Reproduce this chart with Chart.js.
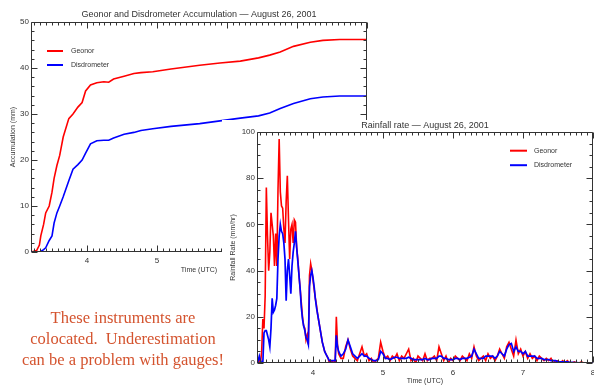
<!DOCTYPE html>
<html>
<head>
<meta charset="utf-8">
<script src="https://cdn.jsdelivr.net/npm/chart.js@4/dist/chart.umd.min.js"></script>
<style>
html, body { margin: 0; padding: 0; background: #fff; }
body { width: 594px; height: 386px; position: relative; overflow: hidden; }
#accChart { position: absolute; left: 0; top: 0; }
#rateChart { position: absolute; left: 222px; top: 120px; background: #fff; }
#note {
  position: absolute; left: 0; top: 307px; width: 246px;
  text-align: center; font: 16.5px/21px "Liberation Serif", serif; color: #d4532e;
}
</style>
</head>
<body>
<canvas id="accChart" width="380" height="282"></canvas>
<canvas id="rateChart" width="372" height="266"></canvas>
<div id="note">These instruments are<br>colocated.&nbsp; Underestimation<br>can be a problem with gauges!</div>
<script>
// accumulation (mm) vs time (UTC hours)
const accHours = [3.20, 3.28, 3.32, 3.34, 3.38, 3.41, 3.46, 3.50, 3.53, 3.57,
  3.61, 3.66, 3.74, 3.80, 3.87, 3.93, 3.98, 4.05, 4.14, 4.24,
  4.31, 4.38, 4.53, 4.67, 4.77, 4.94, 5.20, 5.61, 5.90, 6.19,
  6.45, 6.61, 6.76, 6.95, 7.19, 7.37, 7.61, 8.00]
const geonorAcc = [0, 0.3, 1.5, 3.5, 6, 8.5, 10, 13, 16, 18.8,
  21, 25, 29, 30, 31.5, 32.5, 35, 36.3, 36.8, 37,
  36.9, 37.6, 38.2, 38.8, 39.0, 39.2, 39.8, 40.6, 41.1, 41.5,
  42.2, 42.8, 43.5, 44.7, 45.6, 46.0, 46.2, 46.2]
const disdroAcc = [0, 0, 0, 0.1, 0.5, 0.9, 2.5, 3.5, 6.3, 8.5,
  10, 12, 15.5, 18, 19, 20, 21.5, 23.5, 24.2, 24.3,
  24.3, 24.8, 25.6, 26.0, 26.4, 26.8, 27.3, 27.9, 28.5, 29.1,
  29.6, 30.2, 31.2, 32.3, 33.3, 33.7, 33.9, 33.9]

// rain rate (mm/hr) vs time (UTC minutes of the day)
const rateMinutes = [
  192, 193, 194, 195, 196, 197, 198, 199, 200, 201,
  202, 203, 204, 205, 206, 207, 208, 209, 210, 211,
  212, 213, 214, 215, 216, 217, 218, 219, 220, 221,
  222, 223, 224, 225, 226, 227, 228, 229, 230, 231,
  232, 233, 234, 235, 236, 237, 238, 239, 240, 241,
  242, 243, 244, 245, 246, 247, 248, 249, 250, 251,
  252, 253, 254, 255, 256, 257, 258, 259, 260, 261,
  262, 263, 264,
  266, 268, 270, 272, 274, 276, 278, 280, 282, 284,
  286, 288, 290, 292, 294, 296, 298, 300, 302, 304,
  306, 308, 310, 312, 314, 316, 318, 320, 322, 324,
  326, 328, 330, 332, 334, 336, 338, 340, 342, 344,
  346, 348, 350, 352, 354, 356, 358, 360, 362, 364,
  366, 368, 370, 372, 374, 376, 378, 380, 382, 384,
  386, 388, 390, 392, 394, 396, 398, 400, 402, 404,
  406, 408, 410, 412, 414, 416, 418, 420, 422, 424,
  426, 428, 430, 432, 434, 436, 438, 440, 442, 444,
  446, 448, 450, 452, 454, 456, 458, 460, 462, 464,
  466, 468, 470, 472, 474, 476, 478, 480]
const geonorRate = [
  1, 0, 2, 0, 5, 19, 15, 29, 76, 55,
  40, 48, 65, 60, 55, 42, 56, 42, 75, 97,
  74, 68, 67, 58, 52, 70, 81, 62, 45, 58,
  60, 52, 62, 61, 50, 45, 38, 32, 26, 20,
  16, 15, 10, 12, 8, 38, 43, 40, 36, 32,
  28, 25, 21, 18, 15, 12, 9, 7, 5, 4,
  3, 2, 0, 1, 0, 1, 1, 0, 20, 8,
  4, 3, 2,
  2, 7, 10, 6, 3, 2, 1, 4, 7, 3,
  4, 1, 2, 0, 1, 2, 9, 5, 2, 3,
  1, 3, 2, 4, 1, 3, 2, 4, 6, 1,
  2, 0, 3, 2, 1, 4, 1, 2, 2, 3,
  1, 7, 4, 1, 3, 0, 2, 1, 3, 2,
  1, 3, 2, 1, 4, 2, 7, 3, 1, 2,
  3, 1, 4, 2, 3, 1, 3, 6, 4, 2,
  7, 9, 6, 3, 10, 4, 6, 3, 5, 2,
  4, 2, 3, 1, 3, 2, 1, 2, 1, 2,
  0, 1, 1, 0, 1, 0, 1, 0, 0, 0.5,
  0, 0, 0.5, 0, 0, 0, 0, 0]
const disdroRate = [
  0, 1, 3, 1, 0, 0, 13, 14, 14, 12,
  10, 7, 15, 28, 22, 23, 25, 28, 45, 55,
  60, 57, 56, 52, 45, 27, 40, 45, 38, 30,
  42, 48, 52, 57, 50, 44, 38, 32, 24, 19,
  16, 14, 11, 10, 8, 33, 38, 40, 37, 33,
  28, 24, 21, 18, 15, 12, 9, 7, 5, 4,
  3, 2, 1, 1, 1, 1, 1, 1, 12, 7,
  5, 4, 3,
  4, 6, 10, 7, 4, 3, 2, 3, 4, 3,
  3, 2, 1.5, 1, 1, 1.5, 5, 4, 2, 2,
  1.5, 2, 2.5, 2.5, 2, 2, 2, 2, 2.5, 2,
  1.5, 1.5, 1.5, 1.5, 1.5, 2, 1.5, 1.5, 2, 2,
  2, 3, 3, 2, 2, 1.5, 1.5, 1.5, 2, 2,
  1.5, 2, 2, 2, 2.5, 3, 6, 4, 2, 2,
  2, 3, 3, 3, 3, 2, 3, 5, 4, 3,
  6, 8, 8.5, 5, 7, 5, 5, 4, 5, 3,
  3, 3, 3, 2, 2, 2, 1.5, 1.5, 1.5, 1,
  1, 1, 0.5, 0.5, 0.5, 0.5, 0.5, 0.3, 0.3, 0.2,
  0.2, 0.1, 0, 0, 0, 0, 0, 0]

const timeTicks = [4, 5, 6, 7, 8]
const accTicks = [0, 10, 20, 30, 40, 50]
const rateTicks = [0, 20, 40, 60, 80, 100]
const seriesNames = ['Geonor', 'Disdrometer']

Chart.defaults.font.family = '"Liberation Sans", Arial, sans-serif'
Chart.defaults.color = '#333'
Chart.defaults.animation = false

const pairs = (xs, ys) => xs.map((t, i) => ({ x: t, y: ys[i] }))

// IDL style frame: box all round with inward ticks on every side
function marks(min, max, step, major) {
  const out = []
  const k0 = Math.ceil(min / step - 1e-6), k1 = Math.floor(max / step + 1e-6)
  for (let k = k0; k <= k1; k++) {
    const v = k * step
    out.push({ v: v, big: Math.abs(v / major - Math.round(v / major)) < 1e-6 })
  }
  return out
}

const frame = {
  id: 'frame',
  afterDatasetsDraw(chart, args, opts) {
    const { ctx, chartArea: a, scales: { x, y } } = chart
    const L = Math.round(a.left) + 0.5, R = Math.round(a.right) - 0.5
    const T = Math.round(a.top) + 0.5, B = Math.round(a.bottom) - 0.5
    ctx.save()
    ctx.strokeStyle = '#333'
    ctx.lineWidth = 1
    ctx.beginPath()
    ctx.rect(L, T, R - L, B - T)
    marks(x.min, x.max, opts.xMinor, opts.xMajor).forEach(m => {
      const px = Math.round(x.getPixelForValue(m.v)) + 0.5
      const len = m.big ? 6 : 3
      ctx.moveTo(px, B); ctx.lineTo(px, B - len)
      ctx.moveTo(px, T); ctx.lineTo(px, T + len)
    })
    marks(y.min, y.max, opts.yMinor, opts.yMajor).forEach(m => {
      const py = Math.round(y.getPixelForValue(m.v)) + 0.5
      const len = m.big ? 6 : 3
      ctx.moveTo(L, py); ctx.lineTo(L + len, py)
      ctx.moveTo(R, py); ctx.lineTo(R - len, py)
    })
    ctx.stroke()

    // legend inside the plot
    const lg = opts.legend
    ctx.font = '7px "Liberation Sans", Arial, sans-serif'
    ctx.textBaseline = 'middle'
    ctx.fillStyle = '#333'
    chart.data.datasets.forEach((ds, i) => {
      const ly = a.top + lg.y + i * lg.dy
      ctx.strokeStyle = ds.borderColor
      ctx.lineWidth = 2
      ctx.beginPath()
      ctx.moveTo(a.left + lg.x, ly); ctx.lineTo(a.left + lg.x + lg.len, ly)
      ctx.stroke()
      ctx.fillText(ds.label, a.left + lg.x + lg.len + lg.gap, ly)
    })
    ctx.restore()
  }
}

function makeScales(yTicks, yMax, yTitle, s) {
  return {
    x: {
      type: 'linear', min: 3.2, max: 8,
      afterBuildTicks: sc => { sc.ticks = timeTicks.map(v => ({ value: v })) },
      afterFit: sc => { sc.height = s.xh; sc.paddingLeft = 0; sc.paddingRight = 0 },
      grid: { display: false, drawTicks: false },
      border: { display: false },
      ticks: { padding: s.xpad, font: { size: 8 }, maxRotation: 0, autoSkip: false },
      title: { display: true, text: 'Time (UTC)', font: { size: 7 }, padding: { top: 0, bottom: s.xtp } }
    },
    y: {
      type: 'linear', min: 0, max: yMax,
      afterBuildTicks: sc => { sc.ticks = yTicks.map(v => ({ value: v })) },
      afterFit: sc => { sc.width = s.yw; sc.paddingTop = 0; sc.paddingBottom = 0 },
      grid: { display: false, drawTicks: false },
      border: { display: false },
      ticks: { padding: 2, font: { size: 8 }, autoSkip: false },
      title: { display: true, text: yTitle, font: { size: 7 }, padding: { top: s.ytp, bottom: 0 } }
    }
  }
}

new Chart(document.getElementById('accChart'), {
  type: 'line',
  data: {
    datasets: [
      { label: seriesNames[0], data: pairs(accHours, geonorAcc), borderColor: '#ff0000', borderWidth: 1.6, pointRadius: 0, order: 1 },
      { label: seriesNames[1], data: pairs(accHours, disdroAcc), borderColor: '#0000ff', borderWidth: 1.6, pointRadius: 0, order: 0 }
    ]
  },
  options: {
    responsive: false,
    layout: { padding: { left: 0, right: 13, top: 0, bottom: 0 } },
    scales: makeScales(accTicks, 50, 'Accumulation (mm)', { xh: 30, xpad: 4, xtp: 7.8, yw: 31, ytp: 8.8 }),
    plugins: {
      legend: { display: false },
      tooltip: { enabled: false },
      title: {
        display: true, fullSize: false,
        text: 'Geonor and Disdrometer Accumulation \u2014 August 26, 2001',
        color: '#333', font: { size: 9, weight: 'normal' }, padding: { top: 9.6, bottom: 1.6 }
      },
      frame: { xMinor: 1 / 12, xMajor: 1, yMinor: 2, yMajor: 10, legend: { x: 16, y: 29, dy: 14, len: 16, gap: 8 } }
    }
  },
  plugins: [frame]
})

new Chart(document.getElementById('rateChart'), {
  type: 'line',
  data: {
    datasets: [
      { label: seriesNames[0], data: pairs(rateMinutes.map(m => m / 60), geonorRate), borderColor: '#ff0000', borderWidth: 1.6, pointRadius: 0, order: 1 },
      { label: seriesNames[1], data: pairs(rateMinutes.map(m => m / 60), disdroRate), borderColor: '#0000ff', borderWidth: 1.7, pointRadius: 0, order: 0 }
    ]
  },
  options: {
    responsive: false,
    layout: { padding: { left: 0, right: 1, top: 0, bottom: 0 } },
    scales: makeScales(rateTicks, 100, 'Rainfall Rate (mm/hr)', { xh: 23, xpad: 4.5, xtp: 0.8, yw: 35, ytp: 6.8 }),
    plugins: {
      legend: { display: false },
      tooltip: { enabled: false },
      title: {
        display: true, fullSize: false,
        text: 'Rainfall rate \u2014 August 26, 2001',
        color: '#333', font: { size: 9, weight: 'normal' }, padding: { top: 0.6, bottom: 0.6 }
      },
      frame: { xMinor: 1 / 12, xMajor: 1, yMinor: 5, yMajor: 20, legend: { x: 253, y: 18.7, dy: 14.5, len: 17, gap: 7 } }
    }
  },
  plugins: [frame]
})
</script>
</body>
</html>
